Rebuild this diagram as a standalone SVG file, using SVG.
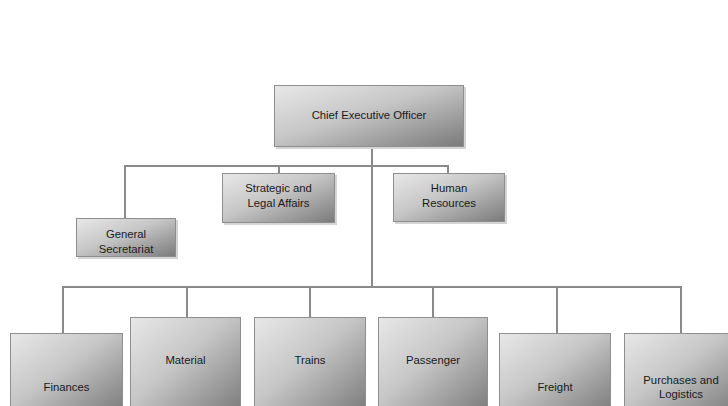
<svg xmlns="http://www.w3.org/2000/svg" width="728" height="406" viewBox="0 0 728 406">
  <defs>
    <linearGradient id="boxFill" x1="0" y1="0" x2="1" y2="1">
      <stop offset="0" stop-color="#e8e8e8"/>
      <stop offset="0.45" stop-color="#c6c6c6"/>
      <stop offset="1" stop-color="#7a7a7a"/>
    </linearGradient>
    <style>
      .box { fill: url(#boxFill); stroke: #8e8e8e; stroke-width: 1; }
      .shadow { fill: #d4d4d4; }
      .label { font-family: "Liberation Sans", Arial, sans-serif; font-size: 11.3px; fill: #1a1a1a; text-anchor: middle; }
      .link { stroke: #8a8a8a; stroke-width: 2; fill: none; }
    </style>
  </defs>

  <rect width="728" height="406" fill="#ffffff"/>

  <!-- reporting lines -->
  <g id="connectors">
    <path class="link" d="M372,147 V287"/>
    <path class="link" d="M125,218 V166 H448 V173"/>
    <path class="link" d="M279,166 V173"/>
    <path class="link" d="M63,333 V287 H681 V333"/>
    <path class="link" d="M187,287 V317"/>
    <path class="link" d="M310,287 V317"/>
    <path class="link" d="M433,287 V317"/>
    <path class="link" d="M557,287 V333"/>
  </g>

  <g id="ceo">
    <rect class="shadow" x="276" y="87" width="190" height="62"/>
    <rect class="box" x="274.5" y="85.5" width="189" height="61"/>
    <text class="label" x="369" y="119">Chief Executive Officer</text>
  </g>

  <g id="general-secretariat">
    <rect class="shadow" x="78" y="220" width="100" height="39"/>
    <rect class="box" x="76.5" y="218.5" width="99" height="38"/>
    <text class="label" x="126" y="238">General</text>
    <text class="label" x="126" y="253">Secretariat</text>
  </g>

  <g id="strategic-legal">
    <rect class="shadow" x="224" y="175" width="113" height="50"/>
    <rect class="box" x="222.5" y="173.5" width="112" height="49"/>
    <text class="label" x="278.5" y="192">Strategic and</text>
    <text class="label" x="278.5" y="207">Legal Affairs</text>
  </g>

  <g id="human-resources">
    <rect class="shadow" x="395" y="175" width="112" height="49"/>
    <rect class="box" x="393.5" y="173.5" width="111" height="48"/>
    <text class="label" x="449" y="192">Human</text>
    <text class="label" x="449" y="207">Resources</text>
  </g>

  <g id="finances">
    <rect class="box" x="10.5" y="333.5" width="112" height="80"/>
    <text class="label" x="66.5" y="391">Finances</text>
  </g>

  <g id="material">
    <rect class="box" x="130.5" y="317.5" width="110" height="96"/>
    <text class="label" x="185.5" y="364">Material</text>
  </g>

  <g id="trains">
    <rect class="box" x="254.5" y="317.5" width="111" height="96"/>
    <text class="label" x="310" y="364">Trains</text>
  </g>

  <g id="passenger">
    <rect class="box" x="378.5" y="317.5" width="109" height="96"/>
    <text class="label" x="433" y="364">Passenger</text>
  </g>

  <g id="freight">
    <rect class="box" x="499.5" y="333.5" width="111" height="80"/>
    <text class="label" x="555" y="391">Freight</text>
  </g>

  <g id="purchases-logistics">
    <rect class="box" x="624.5" y="333.5" width="113" height="80"/>
    <text class="label" x="681" y="384">Purchases and</text>
    <text class="label" x="681" y="398">Logistics</text>
  </g>
</svg>
